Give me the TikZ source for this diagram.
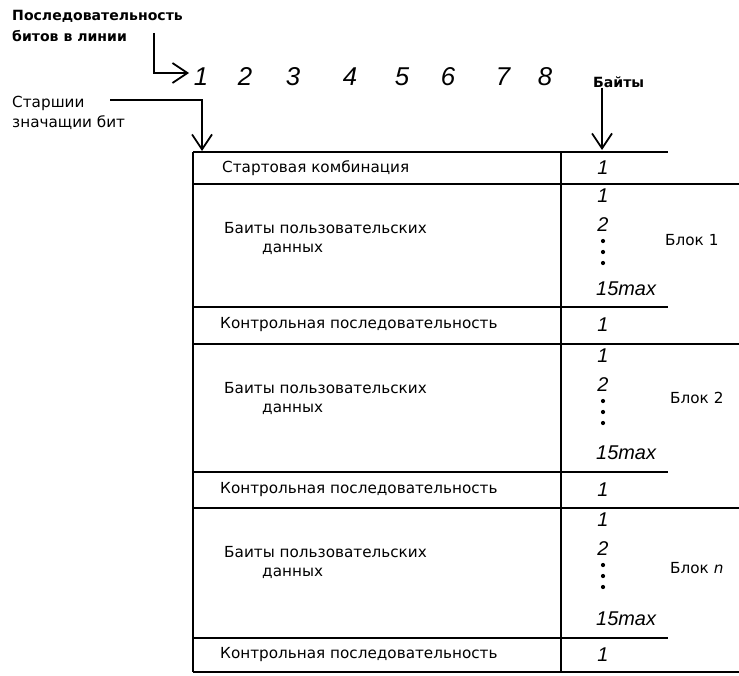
\documentclass[tikz,border=0pt]{standalone}
\usepackage{fontspec}
\setmainfont{DejaVu Sans}
\newfontfamily\digitfont{Liberation Sans}
\usetikzlibrary{arrows.meta,positioning}

\begin{document}
\begin{tikzpicture}[x=0.03cm, y=-0.03cm,
  rowtext/.style={anchor=west, inner sep=0pt, font=\fontsize{13}{15}\selectfont},
  hdrtext/.style={anchor=west, inner sep=0pt, align=left,
    font=\fontsize{12}{18.5}\selectfont\bfseries},
  bitnum/.style={inner sep=0pt, font=\digitfont\itshape\fontsize{22}{22}\selectfont},
  bytenum/.style={inner sep=0pt, font=\digitfont\itshape\fontsize{17}{17}\selectfont},
  tabline/.style={line width=1.5pt},
  conn/.style={-{Straight Barb[length=4.5mm, width=6mm]}, line width=1.5pt}
]
\useasboundingbox (0,0) rectangle (739,675);

\node[hdrtext] (seqlbl) at (12,26) {Последовательность\\битов в линии};
\node[rowtext, align=left, font=\fontsize{13}{17}\selectfont] (msblbl) at (12,113)
  {Старшии\\значащии бит};
\node[hdrtext] (byteslbl) at (593,82) {Байты};

\node[bitnum] (d1) at (201,77) {1};
\node[bitnum] (d2) at (245,77) {2};
\node[bitnum] (d3) at (293,77) {3};
\node[bitnum] (d4) at (350,77) {4};
\node[bitnum] (d5) at (402,77) {5};
\node[bitnum] (d6) at (448,77) {6};
\node[bitnum] (d7) at (503,77) {7};
\node[bitnum] (d8) at (545,77) {8};

\coordinate (seqstart) at (154,33);
\coordinate (seqend) at (189,73);
\coordinate (msbstart) at (110,100);
\coordinate (msbend) at (202,151);
\coordinate (bytesend) at (602,150);

\draw[conn] (seqstart) |- (seqend);
\draw[conn] (msbstart) -| (msbend);
\draw[conn] (byteslbl.south -| bytesend) -- (bytesend);

\draw[tabline] (193,152) -- (668,152);
\draw[tabline] (193,184) -- (739,184);
\draw[tabline] (193,307) -- (668,307);
\draw[tabline] (193,344) -- (739,344);
\draw[tabline] (193,472) -- (668,472);
\draw[tabline] (193,508) -- (739,508);
\draw[tabline] (193,638) -- (668,638);
\draw[tabline] (193,672) -- (739,672);
\draw[tabline] (193,152) -- (193,672);
\draw[tabline] (561,152) -- (561,672);

\node[rowtext] (startrow) at (222,168) {Стартовая комбинация};
\node[bytenum] (startnum) at (603,168) {1};

\node[rowtext] (data1) at (224,228) {Баиты пользовательских};
\node[rowtext] (data1b) at (262,249) {данных};
\node[bytenum] (b1first) at (603,196) {1};
\node[bytenum] (b1second) at (603,225) {2};
\fill (603,241) circle (1.8pt) (603,252) circle (1.8pt) (603,263) circle (1.8pt);
\node[bytenum, anchor=west] (b1last) at (596,289) {15max};
\node[rowtext] (blk1) at (665,240) {Блок 1};

\node[rowtext] (crc1) at (220,325) {Контрольная последовательность};
\node[bytenum] (crc1num) at (603,325) {1};

\node[rowtext] (data2) at (224,388) {Баиты пользовательских};
\node[rowtext] (data2b) at (262,409) {данных};
\node[bytenum] (b2first) at (603,356) {1};
\node[bytenum] (b2second) at (603,385) {2};
\fill (603,401) circle (1.8pt) (603,412) circle (1.8pt) (603,423) circle (1.8pt);
\node[bytenum, anchor=west] (b2last) at (596,453) {15max};
\node[rowtext] (blk2) at (670,398) {Блок 2};

\node[rowtext] (crc2) at (220,490) {Контрольная последовательность};
\node[bytenum] (crc2num) at (603,490) {1};

\node[rowtext] (datan) at (224,552) {Баиты пользовательских};
\node[rowtext] (datanb) at (262,573) {данных};
\node[bytenum] (bnfirst) at (603,520) {1};
\node[bytenum] (bnsecond) at (603,549) {2};
\fill (603,565) circle (1.8pt) (603,576) circle (1.8pt) (603,587) circle (1.8pt);
\node[bytenum, anchor=west] (bnlast) at (596,619) {15max};
\node[rowtext] (blkn) at (670,568) {Блок \textit{n}};

\node[rowtext] (crcn) at (220,655) {Контрольная последовательность};
\node[bytenum] (crcnnum) at (603,655) {1};
\end{tikzpicture}
\end{document}
